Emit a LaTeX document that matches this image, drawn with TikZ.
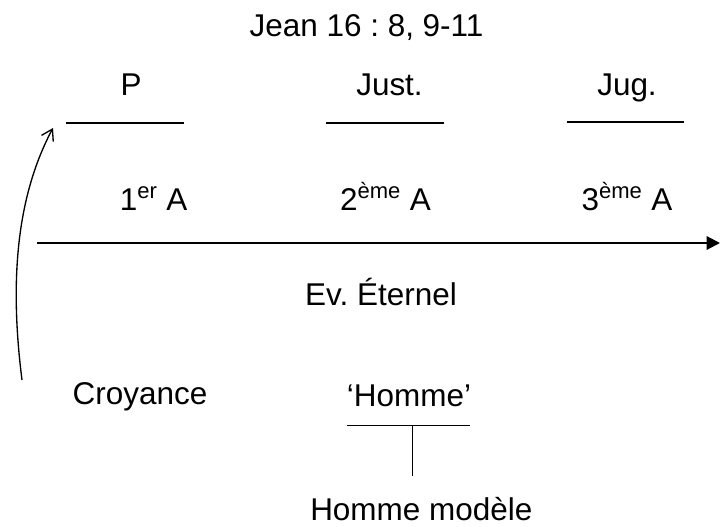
\documentclass[tikz,border=0pt]{standalone}
\usepackage{fontspec}
\setmainfont{Liberation Sans}
\usetikzlibrary{arrows.meta}
\frenchspacing

\begin{document}
\begin{tikzpicture}[x=0.75pt,y=-0.75pt,
    label/.style={anchor=base,inner sep=0pt,font=\fontsize{23.6}{28}\selectfont},
    trait/.style={line width=1.5pt},
    fin/.style={line width=0.75pt}]
    \useasboundingbox (0,0) rectangle (720,527);
    \node[label] (titre) at (366.5,37) {Jean 16 : 8, 9-11};
    \node[label] (p) at (131,96) {P};
    \node[label] (just) at (389.5,96) {Just.};
    \node[label] (jug) at (627,96) {Jug.};
    \coordinate (pg) at (66,123);
    \coordinate (pd) at (184,123);
    \coordinate (jg) at (326,123);
    \coordinate (jd) at (444,123);
    \coordinate (kg) at (567,122);
    \coordinate (kd) at (684,122);
    \draw[trait] (pg) -- (pd);
    \draw[trait] (jg) -- (jd);
    \draw[trait] (kg) -- (kd);
    \node[label] (a1) at (153.5,211) {1\textsuperscript{er} A};
    \node[label] (a2) at (385.5,211) {2\textsuperscript{ème} A};
    \node[label] (a3) at (627,211) {3\textsuperscript{ème} A};
    \coordinate (debut) at (37,243);
    \coordinate (fin) at (720,243);
    \draw[trait,-{Triangle[length=10pt,width=10pt]}] (debut) -- (fin);
    \node[label] (ev) at (381,305) {Ev. Éternel};
    \node[label] (croy) at (140,404) {Croyance};
    \node[label] (homme) at (409,406) {‘Homme’};
    \coordinate (hg) at (347,425);
    \coordinate (hd) at (470,425);
    \coordinate (hm) at (412,425);
    \coordinate (hb) at (412,476);
    \draw[fin] (hg) -- (hd);
    \draw[fin] (hm) -- (hb);
    \node[label,anchor=base west] (modele) at (310,520) {Homme modèle};
    \coordinate (bas) at (22,380);
    \coordinate (haut) at (53,128);
    \draw[line width=1pt,-{Straight Barb[length=8pt,width=10pt]}] (bas) .. controls (8,270) and (20,190) .. (haut);
  \end{tikzpicture}
\end{document}
